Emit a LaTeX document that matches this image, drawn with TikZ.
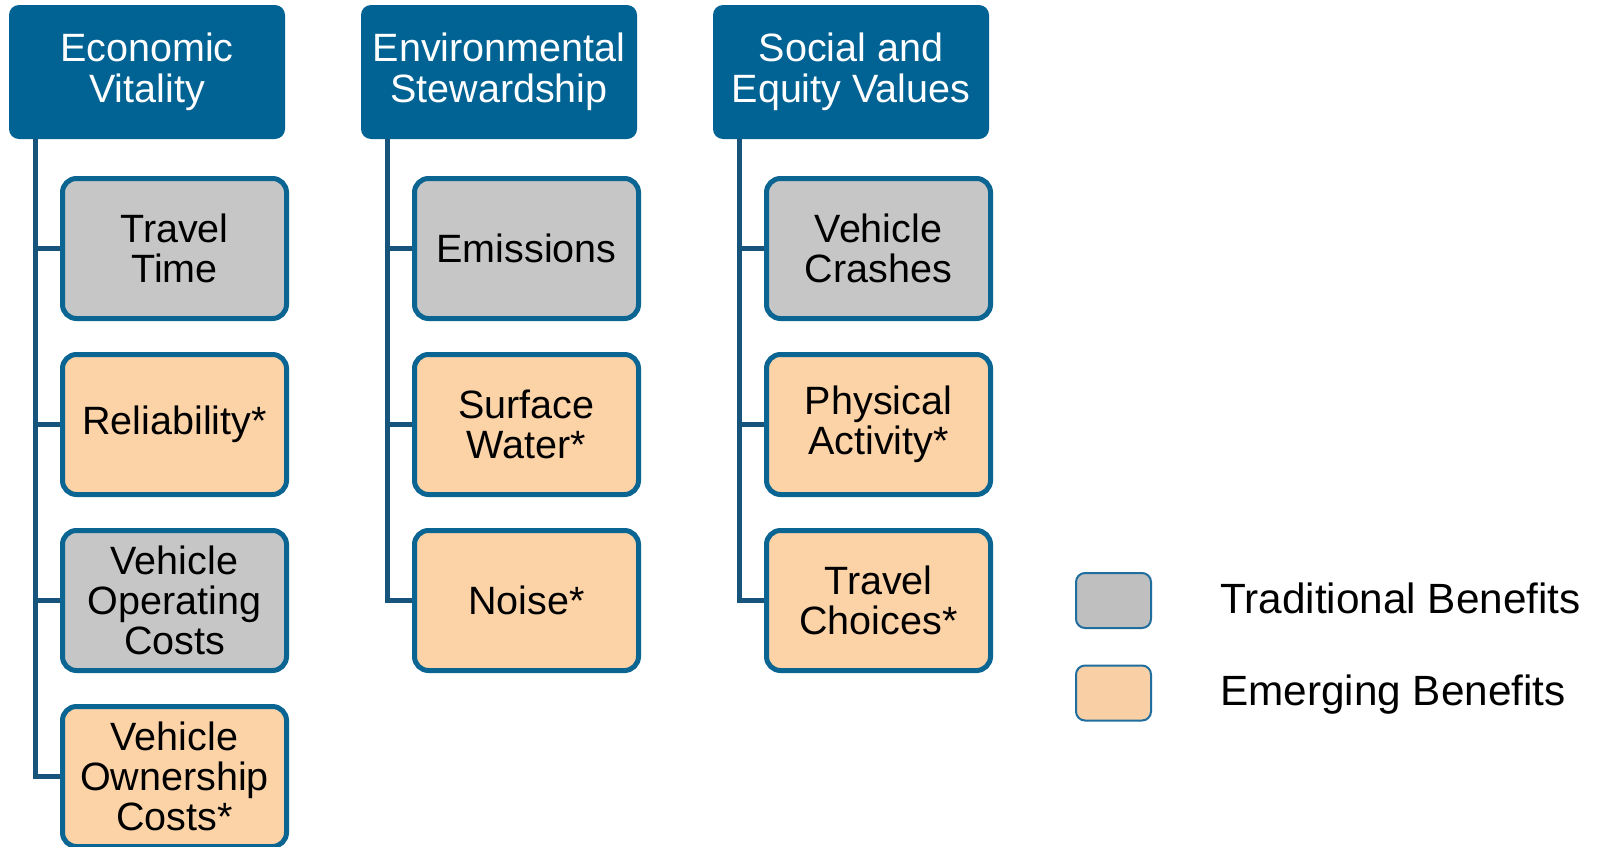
\documentclass[tikz,border=0pt]{standalone}
\usepackage{fontspec}
\setmainfont{Liberation Sans}
\definecolor{hdrblue}{HTML}{006394}
\definecolor{edgeblue}{HTML}{0B6593}
\definecolor{trunkblue}{HTML}{16547C}
\definecolor{tradgray}{HTML}{C6C6C6}
\definecolor{emergeorange}{HTML}{FBD3A7}
\definecolor{keygray}{HTML}{BFBFBF}
\definecolor{keyorange}{HTML}{F9D0A5}
\definecolor{keyedge}{HTML}{1F6E9E}
\tikzset{
  hdrbox/.style={fill=hdrblue, draw=none, rounded corners=10pt,
    minimum width=276pt, minimum height=134pt, inner sep=0pt,
    align=center, text=white, font=\fontsize{39.5}{41.5}\selectfont},
  itembox/.style={draw=edgeblue, line width=5pt, rounded corners=14pt,
    minimum width=224pt, minimum height=140pt, inner sep=0pt,
    align=center, text=black, font=\fontsize{39.5}{40}\selectfont},
  trad/.style={itembox, fill=tradgray},
  emerg/.style={itembox, fill=emergeorange},
  keybox/.style={draw=keyedge, line width=2pt, rounded corners=9pt,
    minimum width=75pt, minimum height=55pt, inner sep=0pt},
  keytext/.style={anchor=base west, inner sep=0pt, text=black,
    font=\fontsize{42.3}{43}\selectfont},
  trunk/.style={draw=trunkblue, line width=5pt}
}
\begin{document}
\begin{tikzpicture}[x=1pt, y=-1pt]
\useasboundingbox (0,0) rectangle (1602,846);
\fill[white] (0,0) rectangle (1602,846);

% column headers
\node[hdrbox] (h1) at (147,72) {Economic\\Vitality};
\node[hdrbox] (h2) at (499,72) {Environmental\\Stewardship};
\node[hdrbox] (h3) at (851,72) {Social and\\Equity Values};

% trunk start points below each header
\coordinate (t1) at (35,139);
\coordinate (t2) at (387,139);
\coordinate (t3) at (739,139);

% Economic Vitality
\node[trad]  (a1) at (174.5,248.5) {Travel\\Time};
\node[emerg] (a2) at (174.5,424.5) {Reliability*};
\node[trad]  (a3) at (174.5,600.5) {Vehicle\\Operating\\Costs};
\node[emerg] (a4) at (174.5,776.5) {Vehicle\\Ownership\\Costs*};

% Environmental Stewardship
\node[trad]  (b1) at (526.5,248.5) {Emissions};
\node[emerg] (b2) at (526.5,424.5) {Surface\\Water*};
\node[emerg] (b3) at (526.5,600.5) {Noise*};

% Social and Equity Values
\node[trad]  (c1) at (878.5,248.5) {Vehicle\\Crashes};
\node[emerg] (c2) at (878.5,424.5) {Physical\\Activity*};
\node[emerg] (c3) at (878.5,600.5) {Travel\\Choices*};

% branch connectors
\foreach \t/\n in {t1/a1, t1/a2, t1/a3, t1/a4, t2/b1, t2/b2, t2/b3, t3/c1, t3/c2, t3/c3}
  \draw[trunk] (\t) |- (\n.west);

% legend
\node[keybox, fill=keygray]   (k1) at (1113.5,600.5) {};
\node[keybox, fill=keyorange] (k2) at (1113.5,693) {};
\node[keytext] (l1) at (1220,613) {Traditional Benefits};
\node[keytext] (l2) at (1220,705) {Emerging Benefits};
\end{tikzpicture}
\end{document}
